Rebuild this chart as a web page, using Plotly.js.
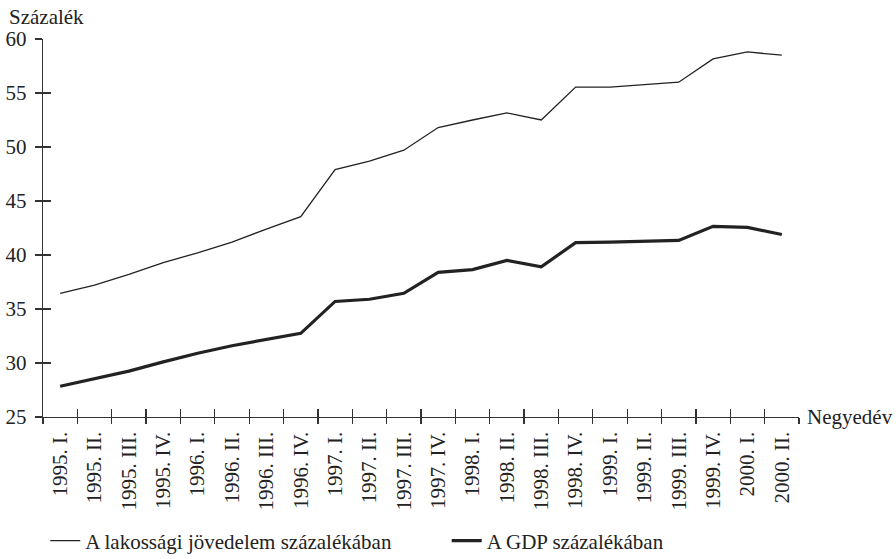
<!DOCTYPE html>
<html>
<head>
<meta charset="utf-8">
<script src="https://cdn.plot.ly/plotly-3.0.1.min.js"></script>
<style>html,body{margin:0;padding:0;background:#fff;}#chart{width:896px;height:559px;}</style>
</head>
<body>
<div id="chart"></div>
<script>
const quarters = ['1995. I.', '1995. II.', '1995. III.', '1995. IV.',
  '1996. I.', '1996. II.', '1996. III.', '1996. IV.',
  '1997. I.', '1997. II.', '1997. III.', '1997. IV.',
  '1998. I.', '1998. II.', '1998. III.', '1998. IV.',
  '1999. I.', '1999. II.', '1999. III.', '1999. IV.',
  '2000. I.', '2000. II.'];
const lakossagi = [36.45, 37.2, 38.2, 39.3, 40.2, 41.2, 42.4, 43.55, 47.9, 48.7, 49.7, 51.8,
  52.5, 53.15, 52.5, 55.55, 55.55, 55.8, 56.0, 58.15, 58.8, 58.5];
const gdp = [27.85, 28.55, 29.25, 30.1, 30.9, 31.6, 32.2, 32.75, 35.7, 35.9, 36.45, 38.4,
  38.65, 39.5, 38.9, 41.15, 41.2, 41.25, 41.35, 42.65, 42.55, 41.9];
const seriesNames = ['A lakossági jövedelem százalékában', 'A GDP százalékában'];
const yTicks = [25, 30, 35, 40, 45, 50, 55, 60];

const ink = '#222';
const axisInk = '#333';
const fnt = {family: '"Liberation Serif", "Times New Roman", serif', size: 21, color: ink};

const traces = [
  {x: quarters, y: lakossagi, name: seriesNames[0], type: 'scatter', mode: 'lines',
   line: {color: ink, width: 1.3}, hoverinfo: 'skip', legend: 'legend'},
  {x: quarters, y: gdp, name: seriesNames[1], type: 'scatter', mode: 'lines',
   line: {color: ink, width: 3.2}, hoverinfo: 'skip', legend: 'legend2'},
  {x: quarters, y: gdp, xaxis: 'x2', yaxis: 'y2', type: 'scatter', mode: 'lines',
   line: {width: 0.1, color: 'rgba(0,0,0,0)'}, showlegend: false, hoverinfo: 'skip'}
];

const axisCommon = {showgrid: false, zeroline: false, fixedrange: true, automargin: false};

const layout = {
  width: 896, height: 559,
  margin: {l: 43, r: 97, t: 39, b: 142, autoexpand: false},
  paper_bgcolor: '#fff', plot_bgcolor: '#fff',
  font: fnt,
  showlegend: true,
  legend: {orientation: 'h', x: 0.003, xanchor: 'left', y: -0.328, yanchor: 'middle',
    font: fnt, itemwidth: 30, bgcolor: 'rgba(0,0,0,0)'},
  legend2: {orientation: 'h', x: 0.534, xanchor: 'left', y: -0.328, yanchor: 'middle',
    font: fnt, itemwidth: 30, bgcolor: 'rgba(0,0,0,0)'},
  xaxis: Object.assign({type: 'category', categoryarray: quarters, range: [-0.5, 21.5],
    tickmode: 'linear', tick0: 0, dtick: 1,
    tickson: 'boundaries', ticks: 'inside', ticklen: 8, tickcolor: axisInk, tickwidth: 1.3,
    showline: true, linecolor: axisInk, linewidth: 1.3, ticklabelstandoff: 5,
    tickangle: -90, tickfont: fnt}, axisCommon),
  yaxis: Object.assign({range: [25, 60], tickvals: yTicks, ticks: 'inside', ticklen: 8,
    tickcolor: axisInk, tickwidth: 1.3, ticklabelstandoff: 11,
    showline: true, linecolor: axisInk, linewidth: 1.3, tickfont: fnt}, axisCommon),
  xaxis2: Object.assign({type: 'category', categoryarray: quarters, range: [-0.5, 21.5],
    tickmode: 'linear', tick0: 0, dtick: 1, overlaying: 'x', anchor: 'y2',
    tickson: 'boundaries', ticks: 'outside', ticklen: 6, tickcolor: axisInk, tickwidth: 1.3,
    showticklabels: false, showline: false, side: 'bottom'}, axisCommon),
  yaxis2: Object.assign({range: [25, 60], tickvals: yTicks, overlaying: 'y', anchor: 'x2', side: 'left',
    ticks: 'outside', ticklen: 7, tickcolor: axisInk, tickwidth: 1.3,
    showticklabels: false, showline: false}, axisCommon),
  annotations: [
    {text: 'Százalék', xref: 'paper', yref: 'paper', x: -0.047, y: 1.057, xanchor: 'left', yanchor: 'middle',
     showarrow: false, font: fnt},
    {text: 'Negyedév', xref: 'paper', yref: 'paper', x: 1.008, y: 0, xanchor: 'left', yanchor: 'middle',
     showarrow: false, font: fnt}
  ]
};

Plotly.newPlot('chart', traces, layout, {displayModeBar: false, staticPlot: true});
</script>
</body>
</html>
